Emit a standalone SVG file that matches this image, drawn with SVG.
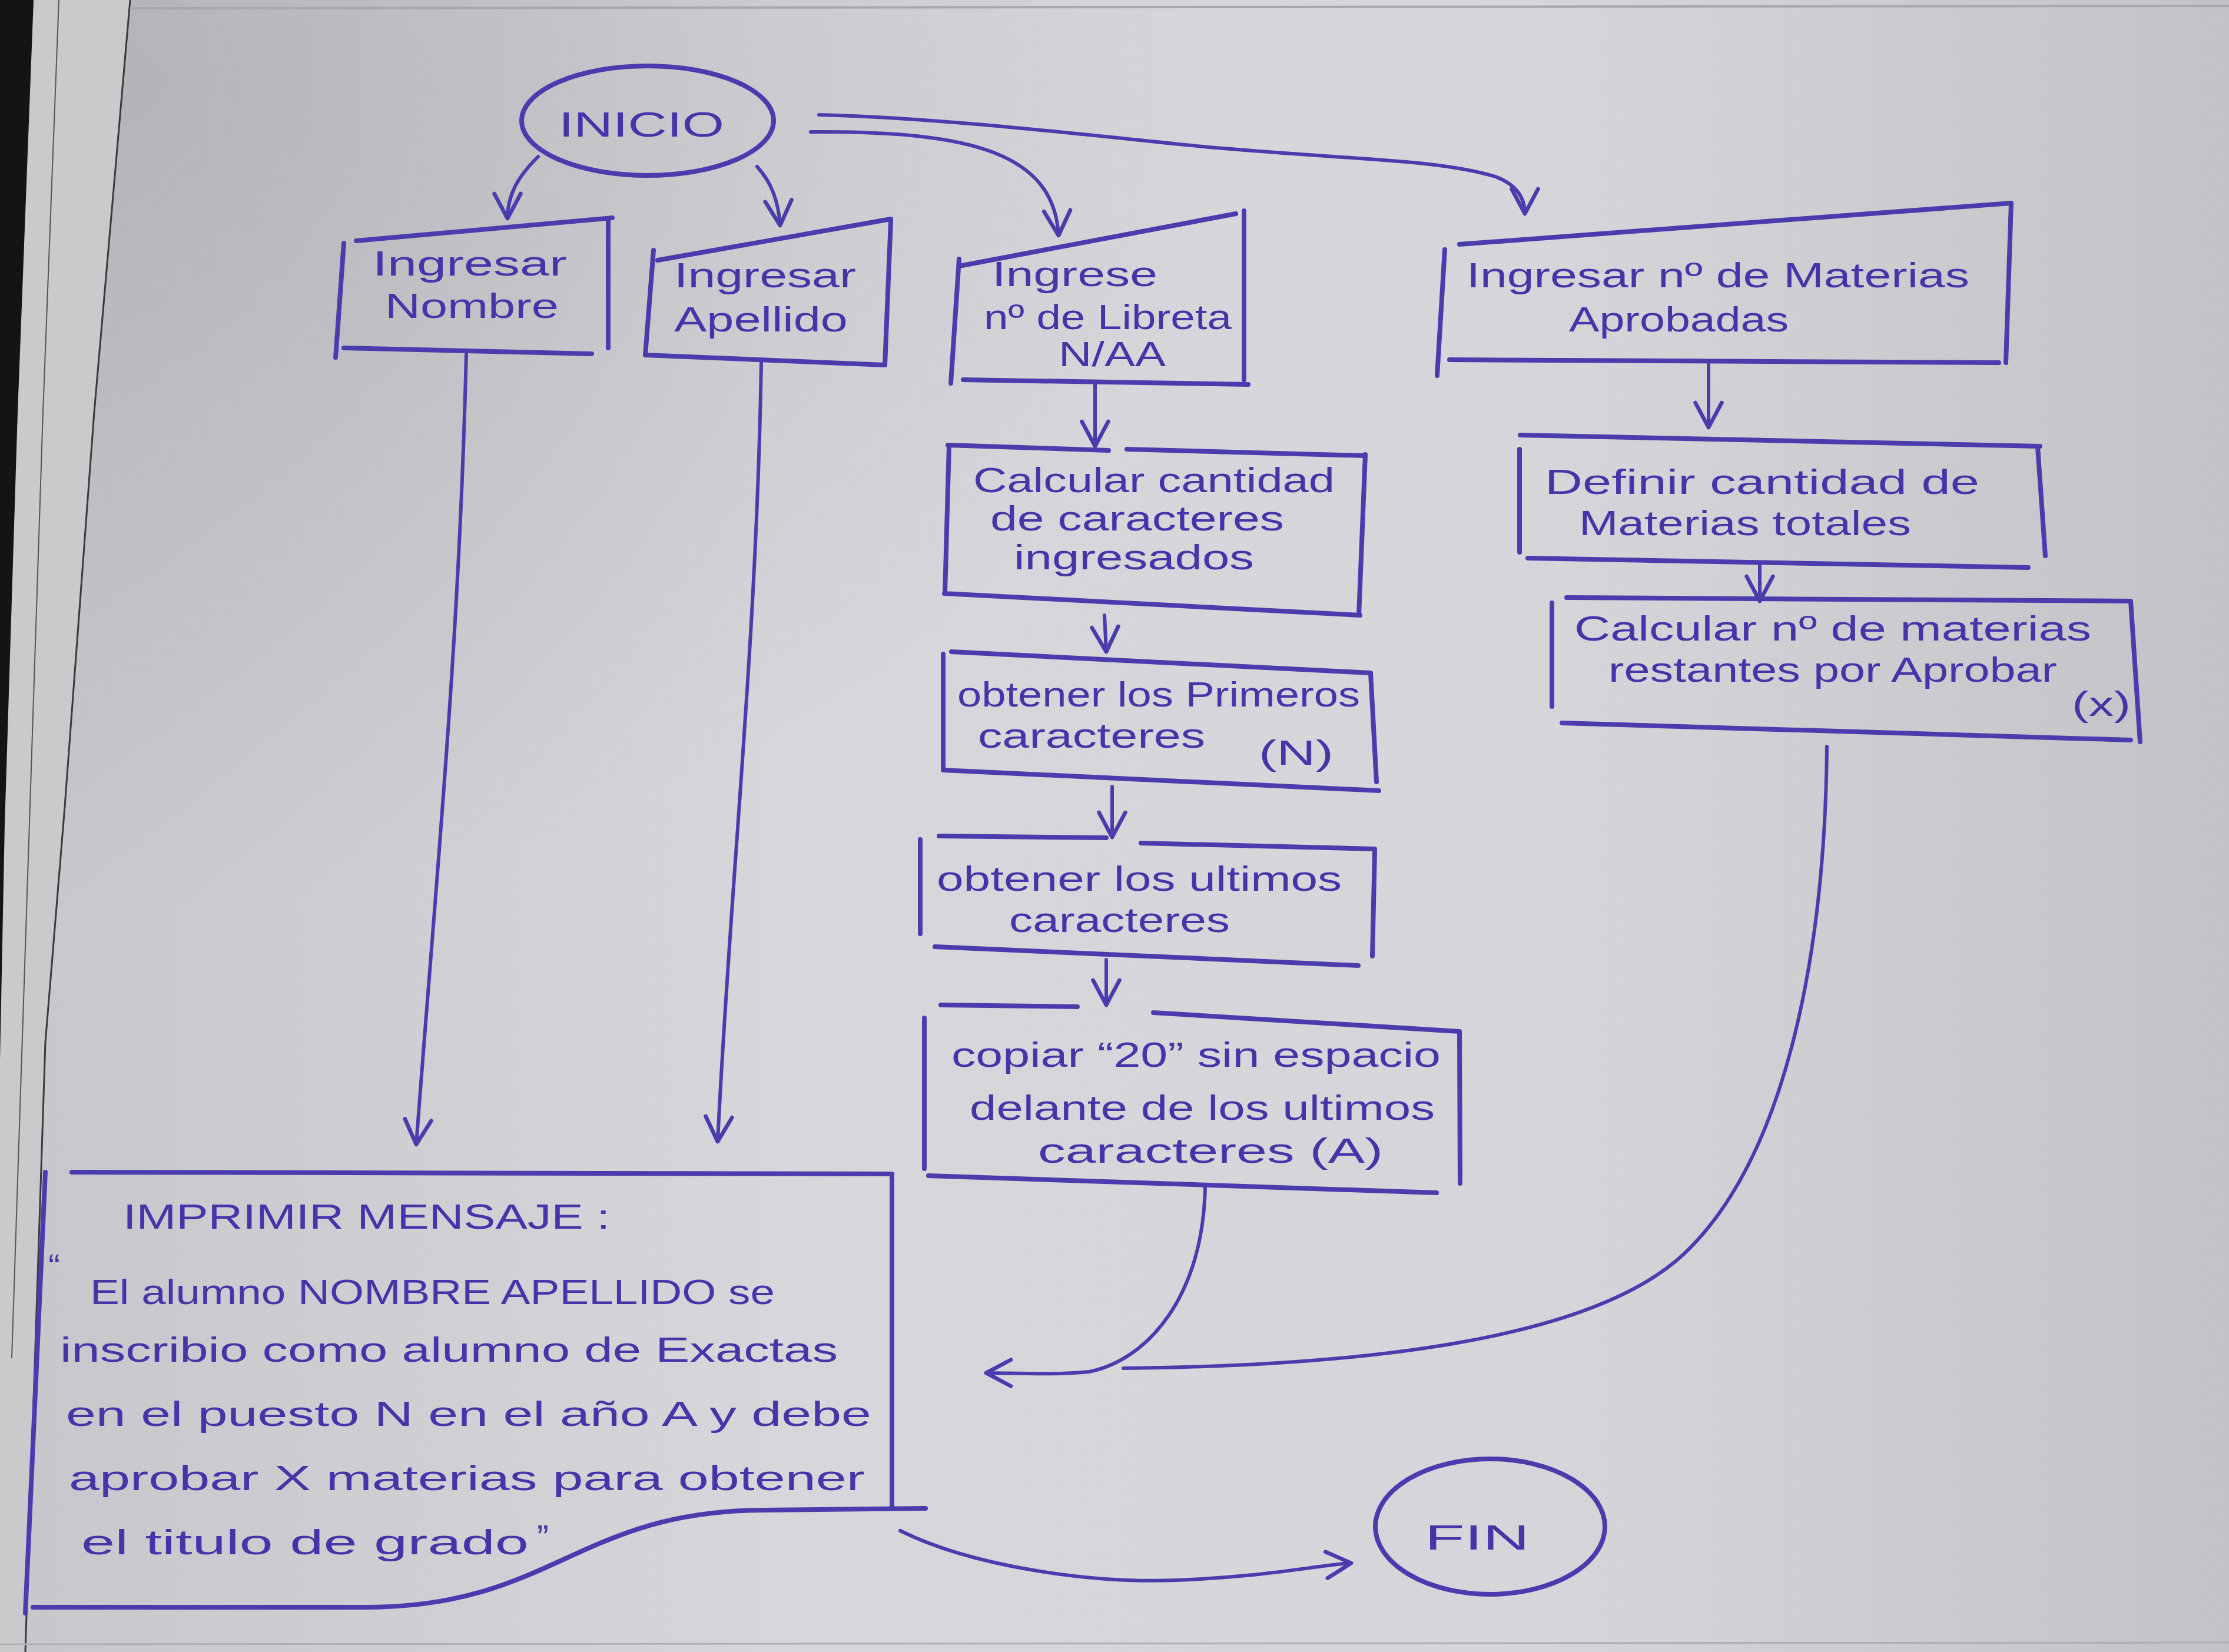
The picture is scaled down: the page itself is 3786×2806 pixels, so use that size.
<svg xmlns="http://www.w3.org/2000/svg" width="3786" height="2806" viewBox="0 0 3786 2806">
<defs>
<linearGradient id="paper" x1="0" y1="0" x2="1" y2="0">
<stop offset="0" stop-color="#c6c6cb"/>
<stop offset="0.35" stop-color="#d6d6db"/>
<stop offset="0.7" stop-color="#d5d5da"/>
<stop offset="1" stop-color="#c3c3c7"/>
</linearGradient>
<radialGradient id="shade" cx="0.05" cy="0.05" r="0.5">
<stop offset="0" stop-color="#9a9a9e" stop-opacity="0.45"/>
<stop offset="1" stop-color="#9a9a9e" stop-opacity="0"/>
</radialGradient>
<marker id="arr" viewBox="0 0 20 20" refX="18" refY="10" markerWidth="56" markerHeight="56" markerUnits="userSpaceOnUse" orient="auto">
<path d="M3,2 L18,10 L3,18" fill="none" stroke="#4b3cae" stroke-width="2.4" stroke-linecap="round" stroke-linejoin="round"/>
</marker>
<style>
.ink{fill:none;stroke:#4b3cae;stroke-width:8;stroke-linecap:round;stroke-linejoin:round}
.con{fill:none;stroke:#4b3cae;stroke-width:6;stroke-linecap:round;stroke-linejoin:round}
.t{font-family:"Liberation Sans","DejaVu Sans",sans-serif;fill:#4634a8;font-size:60px}
</style>
</defs>

<!-- paper background -->
<rect width="3786" height="2806" fill="url(#paper)"/>
<rect width="3786" height="2806" fill="url(#shade)"/>
<path d="M0,0 L221,0 L160,700 L110,1370 L77,1771 L43,2806 L0,2806 Z" fill="#cacacd"/>
<path d="M221,0 L160,700 L110,1370 L77,1771 L43,2806" stroke="#3a3a3c" stroke-width="3" fill="none"/>
<path d="M100,0 L73,700 L20,2307" stroke="#555558" stroke-width="2" fill="none"/>
<path d="M221,14 L3786,10" stroke="#a8a8ab" stroke-width="4" fill="none"/>
<path d="M0,0 L57,0 L30,700 L8,1400 L0,1800 Z" fill="#141416"/>
<path d="M0,2793 L3786,2790" stroke="#b0b0b3" stroke-width="3" fill="none"/>

<g id="connectors">
<path class="con" d="M914,266 C 880,300 862,330 862,371" marker-end="url(#arr)"/>
<path class="con" d="M1286,283 C 1310,310 1322,340 1325,383" marker-end="url(#arr)"/>
<path class="con" d="M1377,224 C 1650,222 1790,260 1798,400" marker-end="url(#arr)"/>
<path class="con" d="M1391,195 C 1600,200 1850,230 2043,249 C 2300,272 2440,270 2540,300 C 2580,315 2590,340 2590,363" marker-end="url(#arr)"/>
<path class="con" d="M792,600 C 780,1100 740,1500 707,1944" marker-end="url(#arr)"/>
<path class="con" d="M1293,616 C 1285,1100 1240,1500 1219,1939" marker-end="url(#arr)"/>
<path class="con" d="M1860,653 L1860,758" marker-end="url(#arr)"/>
<path class="con" d="M1876,1045 L1879,1107" marker-end="url(#arr)"/>
<path class="con" d="M1889,1336 L1889,1422" marker-end="url(#arr)"/>
<path class="con" d="M1879,1630 L1879,1707" marker-end="url(#arr)"/>
<path class="con" d="M2902,616 L2902,726" marker-end="url(#arr)"/>
<path class="con" d="M2989,955 L2989,1021" marker-end="url(#arr)"/>
<path class="con" d="M2047,2013 C 2045,2200 1950,2310 1850,2330 C 1790,2336 1720,2332 1675,2332" marker-end="url(#arr)"/>
<path class="con" d="M3103,1268 C 3100,1600 3040,1960 2860,2130 C 2700,2280 2300,2320 1908,2324"/>
<path class="con" d="M1529,2600 C 1650,2660 1850,2690 2000,2684 C 2150,2678 2230,2660 2295,2655" marker-end="url(#arr)"/>
</g>

<g id="inicio">
<ellipse class="ink" cx="1100" cy="205" rx="214" ry="93"/>
<text class="t" x="949" y="232" font-size="86" textLength="281" lengthAdjust="spacingAndGlyphs">INICIO</text>
</g>

<g id="ingresar-nombre">
<path class="ink" d="M605,409 L1040,370 M584,413 L570,607 M1033,375 L1033,591 M584,591 L1005,601"/>
<text class="t" x="633" y="468" font-size="62" textLength="330" lengthAdjust="spacingAndGlyphs">Ingresar</text>
<text class="t" x="654" y="540" font-size="62" textLength="295" lengthAdjust="spacingAndGlyphs">Nombre</text>
</g>

<g id="ingresar-apellido">
<path class="ink" d="M1117,442 L1513,372 M1110,425 L1096,603 M1513,375 L1503,620 M1096,603 L1503,620"/>
<text class="t" x="1145" y="488" font-size="62" textLength="309" lengthAdjust="spacingAndGlyphs">Ingresar</text>
<text class="t" x="1145" y="563" font-size="62" textLength="295" lengthAdjust="spacingAndGlyphs">Apellido</text>
</g>

<g id="ingrese-libreta">
<path class="ink" d="M1629,452 L2099,363 M1629,440 L1615,651 M2113,358 L2113,645 M1636,645 L2120,653"/>
<text class="t" x="1685" y="486" font-size="60" textLength="281" lengthAdjust="spacingAndGlyphs">Ingrese</text>
<text class="t" x="1671" y="559" font-size="56" textLength="421" lengthAdjust="spacingAndGlyphs">nº de Libreta</text>
<text class="t" x="1798" y="622" font-size="50" textLength="182" lengthAdjust="spacingAndGlyphs">N/AA</text>
</g>

<g id="ingresar-materias">
<path class="ink" d="M2479,415 L3416,345 M2454,424 L2441,638 M3416,345 L3407,616 M2462,611 L3395,616"/>
<text class="t" x="2491" y="488" font-size="62" textLength="854" lengthAdjust="spacingAndGlyphs">Ingresar nº de Materias</text>
<text class="t" x="2665" y="563" font-size="60" textLength="373" lengthAdjust="spacingAndGlyphs">Aprobadas</text>
</g>

<g id="calcular-cantidad">
<path class="ink" d="M1610,756 L1883,765 M1914,763 L2319,774 M1612,756 L1605,1008 M2319,772 L2308,1045 M1604,1008 L2310,1045"/>
<text class="t" x="1653" y="836" font-size="56" textLength="614" lengthAdjust="spacingAndGlyphs">Calcular cantidad</text>
<text class="t" x="1682" y="901" font-size="56" textLength="499" lengthAdjust="spacingAndGlyphs">de caracteres</text>
<text class="t" x="1722" y="967" font-size="56" textLength="408" lengthAdjust="spacingAndGlyphs">ingresados</text>
</g>

<g id="obtener-primeros">
<path class="ink" d="M1616,1107 L2328,1143 M1602,1111 L1602,1308 M2328,1143 L2338,1328 M1602,1308 L2342,1343"/>
<text class="t" x="1626" y="1200" textLength="684" lengthAdjust="spacingAndGlyphs">obtener los Primeros</text>
<text class="t" x="1661" y="1270" textLength="386" lengthAdjust="spacingAndGlyphs">caracteres</text>
<text class="t" x="2138" y="1299" textLength="127" lengthAdjust="spacingAndGlyphs">(N)</text>
</g>

<g id="obtener-ultimos">
<path class="ink" d="M1595,1420 L1879,1423 M1938,1432 L2335,1442 M1563,1426 L1563,1586 M2335,1446 L2331,1624 M1588,1608 L2307,1640"/>
<text class="t" x="1591" y="1513" textLength="688" lengthAdjust="spacingAndGlyphs">obtener los ultimos</text>
<text class="t" x="1714" y="1583" textLength="375" lengthAdjust="spacingAndGlyphs">caracteres</text>
</g>

<g id="copiar-20">
<path class="ink" d="M1598,1707 L1830,1710 M1959,1720 L2479,1752 M1570,1729 L1570,1985 M2479,1752 L2480,2010 M1577,1997 L2440,2026"/>
<text class="t" x="1616" y="1812" font-size="62" textLength="831" lengthAdjust="spacingAndGlyphs">copiar “20” sin espacio</text>
<text class="t" x="1647" y="1902" font-size="62" textLength="790" lengthAdjust="spacingAndGlyphs">delante de los ultimos</text>
<text class="t" x="1763" y="1975" font-size="62" textLength="586" lengthAdjust="spacingAndGlyphs">caracteres (A)</text>
</g>

<g id="definir-materias">
<path class="ink" d="M2582,739 L3465,758 M2581,763 L2581,938 M3461,759 L3474,944 M2595,948 L3445,964"/>
<text class="t" x="2624" y="839" textLength="738" lengthAdjust="spacingAndGlyphs">Definir cantidad de</text>
<text class="t" x="2682" y="909" textLength="564" lengthAdjust="spacingAndGlyphs">Materias totales</text>
</g>

<g id="calcular-restantes">
<path class="ink" d="M2661,1015 L3619,1021 M2636,1024 L2636,1200 M3619,1021 L3635,1260 M2653,1228 L3619,1257"/>
<text class="t" x="2674" y="1088" textLength="878" lengthAdjust="spacingAndGlyphs">Calcular nº de materias</text>
<text class="t" x="2732" y="1158" textLength="762" lengthAdjust="spacingAndGlyphs">restantes por Aprobar</text>
<text class="t" x="3519" y="1216" font-size="50" textLength="100" lengthAdjust="spacingAndGlyphs">(x)</text>
</g>

<g id="imprimir-mensaje">
<path class="ink" d="M122,1991 L1510,1994 M1515,1994 L1515,2561 M77,1991 L43,2740 M56,2730 L620,2730 C 940,2730 980,2565 1300,2565 L1572,2562"/>
<text class="t" x="209" y="2087" font-size="70" textLength="827" lengthAdjust="spacingAndGlyphs">IMPRIMIR MENSAJE :</text>
<text class="t" x="82" y="2172" font-size="76">“</text>
<text class="t" x="153" y="2215" font-size="68" textLength="1163" lengthAdjust="spacingAndGlyphs">El alumno NOMBRE APELLIDO se</text>
<text class="t" x="102" y="2313" font-size="68" textLength="1321" lengthAdjust="spacingAndGlyphs">inscribio como alumno de Exactas</text>
<text class="t" x="112" y="2422" font-size="68" textLength="1368" lengthAdjust="spacingAndGlyphs">en el puesto N  en el año A  y debe</text>
<text class="t" x="117" y="2531" font-size="68" textLength="1352" lengthAdjust="spacingAndGlyphs">aprobar X materias para obtener</text>
<text class="t" x="138" y="2640" font-size="68" textLength="760" lengthAdjust="spacingAndGlyphs">el titulo de grado</text>
<text class="t" x="912" y="2632" font-size="68">”</text>
</g>

<g id="fin">
<ellipse class="ink" cx="2531" cy="2593" rx="195" ry="115"/>
<text class="t" x="2420" y="2632" font-size="100" textLength="178" lengthAdjust="spacingAndGlyphs">FIN</text>
</g>
</svg>
